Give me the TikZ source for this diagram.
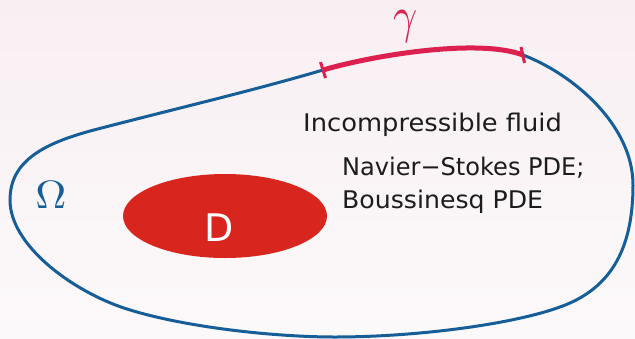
\documentclass[tikz,border=0pt]{standalone}
\usepackage{fontspec}
\newfontfamily\sansf{DejaVu Sans}
\definecolor{bgtop}{RGB}{248,239,242}
\definecolor{bgbot}{RGB}{252,249,250}
\definecolor{bblue}{RGB}{22,94,152}
\definecolor{gred}{RGB}{220,32,80}
\definecolor{dred}{RGB}{216,38,30}
\definecolor{txt}{RGB}{28,28,28}
\begin{document}
\begin{tikzpicture}[x=1pt,y=-1pt,
  bnd/.style={line width=3pt, draw=bblue},
  arcg/.style={line width=5pt, draw=gred},
  tickg/.style={line width=3pt, draw=gred},
  lbl/.style={font=\sansf\fontsize{24.3}{28}\selectfont, text=txt, inner sep=0pt, anchor=base west}]
\useasboundingbox (0,0) rectangle (635,338);
\shade[top color=bgtop,bottom color=bgbot] (0,0) rectangle (635,338);
\coordinate (T1) at (323,70);
\coordinate (T2) at (523,55);
\draw[bnd] (T1) .. controls (373,55.3) and (478,38) .. (T2)
  .. controls (573,74) and (633,125) .. (633,185)
  .. controls (633,250) and (610,285) .. (570,303)
  .. controls (525,323) and (420,337) .. (335,337)
  .. controls (270,337) and (176,326) .. (121,307)
  .. controls (71,289.5) and (10,245) .. (10,200)
  .. controls (10,160) and (45,142.3) .. (100,128.4)
  .. controls (175,108.9) and (253,90.6) .. (T1) -- cycle;
\draw[arcg] (T1) .. controls (373,55.3) and (478,38) .. (T2);
\coordinate (t1a) at (320.5,62);
\coordinate (t1b) at (325.5,78);
\coordinate (t2a) at (521,47);
\coordinate (t2b) at (524.5,63);
\draw[tickg] (t1a) -- (t1b);
\draw[tickg] (t2a) -- (t2b);
\fill[dred] (225,216) ellipse [x radius=102, y radius=42];
\node[font=\sansf\fontsize{38}{40}\selectfont, text=white, inner sep=0pt] (D) at (219.5,227.5) {D};
\node[text=bblue, inner sep=0pt] (om) at (51,195) {\scalebox{4.3}[3.95]{$\Omega$}};
\node[text=gred, inner sep=0pt] (ga) at (406,26) {\scalebox{4.2}[5.1]{$\gamma$}};
\node[lbl] (inc) at (303,131) {\scalebox{1.06}[1]{Incompressible fluid}};
\node[lbl] (ns) at (342,175.5) {\scalebox{0.99}[1]{Navier−Stokes PDE;}};
\node[lbl] (bq) at (342,208) {\scalebox{1.036}[1]{Boussinesq PDE}};
\end{tikzpicture}
\end{document}
